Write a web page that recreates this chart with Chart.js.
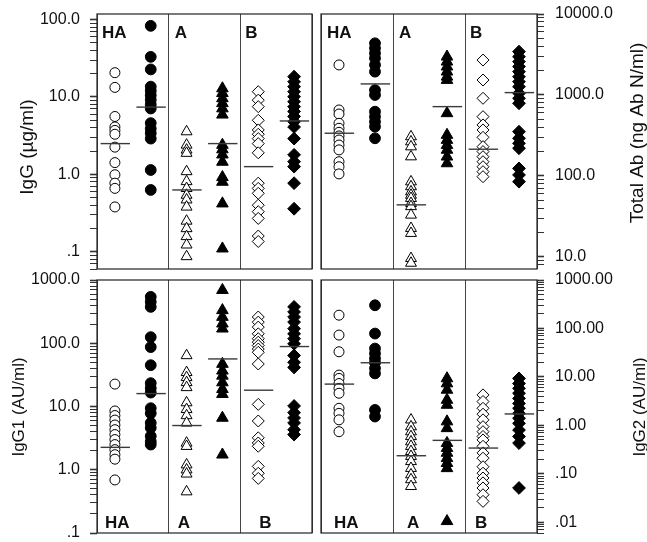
<!DOCTYPE html>
<html>
<head>
<meta charset="utf-8">
<title>Antibody responses</title>
<script src="https://cdn.jsdelivr.net/npm/chart.js@4.4.0/dist/chart.umd.min.js"></script>
<style>
  body { margin: 0; background: #fff; }
  #wrap { position: relative; width: 647px; height: 542px; }
  #wrap canvas { position: absolute; left: 0; top: 0; }
</style>
</head>
<body>
<div id="wrap">
  <canvas id="panelIgG" width="647" height="542"></canvas>
  <canvas id="panelTotal" width="647" height="542"></canvas>
  <canvas id="panelIgG1" width="647" height="542"></canvas>
  <canvas id="panelIgG2" width="647" height="542"></canvas>
</div>
<script>
// groups and the x position of each column (open / filled) in a panel
const groups = ['HA', 'A', 'B'];
const groupStarts = [0, 2, 4];
const columns = [0.5, 1.5, 2.5, 3.5, 4.5, 5.5];
const shapes = ['circle', 'triangle', 'rectRot'];

// IgG (ug/ml)
const igG_HA_open = [20.6, 13.3, 5.6, 4.1, 3.7, 3.3, 2.25, 1.42, 0.99, 0.77, 0.66, 0.38];
const igG_HA_filled = [83, 33, 22.7, 13.6, 12, 10.5, 9.2, 8, 7.1, 4.6, 3.9, 3.4, 2.9, 1.14, 0.63];
const igG_A_open = [3.57, 2.4, 2.07, 1.88, 1.09, 0.81, 0.66, 0.54, 0.47, 0.38, 0.25, 0.2, 0.158, 0.123, 0.087];
const igG_A_filled = [12.9, 11.2, 9.6, 8.3, 7.1, 5.9, 2.4, 2.1, 1.8, 1.45, 0.92, 0.8, 0.42, 0.11];
const igG_B_open = [11.7, 9.1, 7.5, 5.0, 3.75, 3.3, 2.9, 2.5, 1.9, 0.77, 0.66, 0.57, 0.40, 0.33, 0.27, 0.16, 0.136];
const igG_B_filled = [18.3, 15.7, 13.6, 11.7, 10.1, 8.7, 7.5, 6.5, 5.6, 4.8, 4.1, 2.9, 1.79, 1.46, 1.26, 0.77, 0.36];
const igG_medians = [2.5, 7.4, 0.63, 2.5, 1.26, 4.9];
const igG_ticks = [100, 10, 1, 0.1];
const igG_tickLabels = ['100.0', '10.0', '1.0', '.1'];

// Total Ab (ng Ab N/ml)
const tot_HA_open = [2350, 653, 582, 447, 388, 346, 312, 278, 241, 210, 150, 130, 106];
const tot_HA_filled = [4350, 3770, 3270, 2840, 2350, 1940, 1150, 1000, 622, 540, 468, 406, 292];
const tot_A_open = [306, 265, 230, 173, 85, 74, 64, 58, 53, 46, 42, 33, 22.6, 19.6, 9.6, 8.4];
const tot_A_filled = [2970, 2580, 2240, 1940, 1680, 1530, 594, 321, 278, 241, 210, 173, 143];
const tot_B_open = [2700, 1530, 910, 540, 427, 370, 300, 230, 200, 173, 150, 130, 113, 98];
const tot_B_filled = [3430, 2970, 2580, 2240, 1940, 1680, 1460, 1265, 1050, 910, 790, 352, 292, 253, 220, 124, 103, 85];
const tot_medians = [337, 1370, 44, 718, 214, 1070];
const tot_ticks = [10000, 1000, 100, 10];
const tot_tickLabels = ['10000.0', '1000.0', '100.0', '10.0'];

// IgG1 (AU/ml)
const g1_HA_open = [22.6, 8.5, 7.2, 6.1, 5.1, 4.3, 3.6, 3.0, 2.5, 2.08, 1.73, 1.47, 0.69];
const g1_HA_filled = [542, 451, 376, 125, 87, 45, 23.4, 19.5, 16.6, 9.4, 7.8, 5.5, 4.6, 3.4, 2.8, 2.5];
const g1_A_open = [64, 34.6, 28.8, 24, 20, 11.5, 9.0, 7.2, 5.5, 2.65, 2.35, 1.2, 1.0, 0.86, 0.45];
const g1_A_filled = [692, 332, 260, 204, 170, 47, 36.8, 30.6, 24, 18.8, 15.7, 6.6, 1.73];
const g1_B_open = [260, 216, 180, 141, 118, 104, 92, 81, 72, 47, 10.8, 5.9, 3.2, 2.65, 2.35, 1.13, 0.88, 0.73];
const g1_B_filled = [376, 313, 260, 216, 170, 141, 118, 98, 64, 50, 41.5, 10.2, 8.0, 6.6, 5.5, 4.3, 3.6];
const g1_medians = [2.26, 16.0, 5.0, 56.5, 18.1, 88.7];
const g1_ticks = [1000, 100, 10, 1, 0.1];
const g1_tickLabels = ['1000.0', '100.0', '10.0', '1.0', '.1'];

// IgG2 (AU/ml)
const g2_HA_open = [188, 73, 33, 10.9, 9.3, 7.3, 5.8, 4.6, 2.25, 1.77, 1.30, 0.74];
const g2_HA_filled = [301, 78.5, 38.5, 30.5, 24, 19.6, 15, 11.8, 2.08, 1.52];
const g2_A_open = [1.30, 0.94, 0.74, 0.59, 0.46, 0.37, 0.29, 0.23, 0.18, 0.13, 0.096, 0.076, 0.055];
const g2_A_filled = [9.3, 7.3, 5.4, 3.35, 2.64, 1.2, 0.87, 0.43, 0.34, 0.27, 0.21, 0.166, 0.13, 0.0105];
const g2_B_open = [4.25, 3.1, 2.25, 1.7, 1.3, 0.94, 0.74, 0.59, 0.5, 0.37, 0.27, 0.21, 0.14, 0.103, 0.082, 0.065, 0.051, 0.037, 0.027];
const g2_B_filled = [9.3, 7.3, 5.8, 4.6, 3.6, 2.84, 2.25, 1.77, 1.40, 1.10, 0.8, 0.59, 0.43, 0.051];
const g2_medians = [7.1, 19.6, 0.236, 0.49, 0.34, 1.72];
const g2_ticks = [1000, 100, 10, 1, 0.1, 0.01];
const g2_tickLabels = ['1000.00', '100.00', '10.00', '1.00', '.10', '.01'];

const FONT = '"Liberation Sans", Arial, Helvetica, sans-serif';

// one entry per panel: where it sits and how its axis looks
const panels = [
    {
        id: 'panelIgG', side: 'left', axisWidth: 97,
        padding: { left: 0, right: 335, top: 14, bottom: 273 },
        min: 0.06, max: 118, ticks: igG_ticks, tickLabels: igG_tickLabels,
        open: [igG_HA_open, igG_A_open, igG_B_open],
        filled: [igG_HA_filled, igG_A_filled, igG_B_filled],
        medians: igG_medians,
        title: 'IgG (µg/ml)', titleX: 28, titleY: 147, titleSize: 19,
        labelSide: 'top', labelOffsets: [5, 6, 5]
    },
    {
        id: 'panelTotal', side: 'right', axisWidth: 110,
        padding: { left: 321, right: 0, top: 14, bottom: 273 },
        min: 7.1, max: 10000, ticks: tot_ticks, tickLabels: tot_tickLabels,
        open: [tot_HA_open, tot_A_open, tot_B_open],
        filled: [tot_HA_filled, tot_A_filled, tot_B_filled],
        medians: tot_medians,
        title: 'Total Ab (ng Ab N/ml)', titleX: 638, titleY: 133, titleSize: 19,
        labelSide: 'top', labelOffsets: [6, 6, 5]
    },
    {
        id: 'panelIgG1', side: 'left', axisWidth: 97,
        padding: { left: 0, right: 335, top: 280, bottom: 9 },
        min: 0.1, max: 1000, ticks: g1_ticks, tickLabels: g1_tickLabels,
        open: [g1_HA_open, g1_A_open, g1_B_open],
        filled: [g1_HA_filled, g1_A_filled, g1_B_filled],
        medians: g1_medians,
        title: 'IgG1 (AU/ml)', titleX: 19, titleY: 407, titleSize: 17,
        labelSide: 'bottom', labelOffsets: [8, 9, 19]
    },
    {
        id: 'panelIgG2', side: 'right', axisWidth: 110,
        padding: { left: 321, right: 0, top: 280, bottom: 9 },
        min: 0.006, max: 1000, ticks: g2_ticks, tickLabels: g2_tickLabels,
        open: [g2_HA_open, g2_A_open, g2_B_open],
        filled: [g2_HA_filled, g2_A_filled, g2_B_filled],
        medians: g2_medians,
        title: 'IgG2 (AU/ml)', titleX: 640, titleY: 407, titleSize: 17,
        labelSide: 'bottom', labelOffsets: [13, 14, 10]
    }
];

const radii = { circle: 5, triangle: 6.3, rectRot: 6 };

// box, group names and rotated axis title
const panelDecor = {
    id: 'panelDecor',
    afterDatasetsDraw(chart, args, opts) {
        const ctx = chart.ctx;
        const a = chart.chartArea;
        const x = chart.scales.x;
        ctx.save();
        ctx.strokeStyle = '#222';
        ctx.lineWidth = 1.2;
        ctx.strokeRect(a.left, a.top, a.right - a.left, a.bottom - a.top);

        ctx.fillStyle = '#111';
        ctx.font = 'bold 17px ' + FONT;
        ctx.textAlign = 'left';
        ctx.textBaseline = 'alphabetic';
        groups.forEach((g, i) => {
            const gx = x.getPixelForValue(groupStarts[i]) + opts.labelOffsets[i];
            const gy = opts.labelSide === 'top' ? a.top + 24 : a.bottom - 5;
            ctx.fillText(g, gx, gy);
        });

        ctx.translate(opts.titleX, opts.titleY);
        ctx.rotate(-Math.PI / 2);
        ctx.font = opts.titleSize + 'px ' + FONT;
        ctx.textAlign = 'center';
        ctx.textBaseline = 'middle';
        ctx.fillText(opts.title, 0, 0);
        ctx.restore();
    }
};

// 1..9 x 10^n between min and max, so the minor marks show
function logTicks(min, max) {
    const out = [];
    for (let e = Math.floor(Math.log10(min)); e <= Math.ceil(Math.log10(max)); e++) {
        for (let m = 1; m < 10; m++) {
            const v = m * Math.pow(10, e);
            if (v >= min * 0.999 && v <= max * 1.001) out.push({ value: v });
        }
    }
    return out;
}

function findDecade(p, value) {
    return p.ticks.findIndex(t => Math.abs(t - value) / t < 1e-6);
}

function buildDatasets(p) {
    const sets = [];
    shapes.forEach((shape, g) => {
        [p.open[g], p.filled[g]].forEach((vals, k) => {
            const col = columns[g * 2 + k];
            sets.push({
                type: 'scatter',
                data: vals.map(v => ({ x: col, y: v })),
                pointStyle: shape,
                pointRadius: radii[shape] + (k ? 0.4 : 0),
                backgroundColor: k ? '#000' : '#fff',
                borderColor: '#000',
                borderWidth: 1,
                order: 1
            });
            // median line
            const m = p.medians[g * 2 + k];
            sets.push({
                type: 'line',
                showLine: true,
                data: [{ x: col - 0.4, y: m }, { x: col + 0.42, y: m }],
                borderColor: '#3a3a3a',
                borderWidth: 1.4,
                pointRadius: 0,
                order: 0
            });
        });
    });
    return sets;
}

function createPanel(p) {
    const ctx = document.getElementById(p.id).getContext('2d');
    return new Chart(ctx, {
        type: 'scatter',
        data: { datasets: buildDatasets(p) },
        plugins: [panelDecor],
        options: {
            responsive: false,
            animation: false,
            devicePixelRatio: 1,
            events: [],
            layout: { padding: p.padding },
            plugins: {
                legend: { display: false },
                tooltip: { enabled: false },
                panelDecor: {
                    title: p.title, titleX: p.titleX, titleY: p.titleY, titleSize: p.titleSize,
                    labelSide: p.labelSide, labelOffsets: p.labelOffsets
                }
            },
            scales: {
                x: {
                    type: 'linear',
                    min: 0,
                    max: 6,
                    ticks: { stepSize: 2, display: false },
                    grid: { color: '#444', lineWidth: 1, drawTicks: false },
                    border: { display: false },
                    afterFit: s => { s.height = 0; s.paddingLeft = 0; s.paddingRight = 0; }
                },
                y: {
                    type: 'logarithmic',
                    position: p.side,
                    min: p.min,
                    max: p.max,
                    afterBuildTicks: s => { s.ticks = logTicks(p.min, p.max); },
                    afterFit: s => { s.width = p.axisWidth; s.paddingTop = 0; s.paddingBottom = 0; },
                    border: { display: false },
                    grid: {
                        drawOnChartArea: false,
                        drawTicks: true,
                        tickLength: 7,
                        tickColor: '#333',
                        tickWidth: c => (c.tick && findDecade(p, c.tick.value) >= 0 ? 1.6 : 1)
                    },
                    ticks: {
                        autoSkip: false,
                        padding: p.side === 'left' ? 10 : 11,
                        color: '#111',
                        font: { family: FONT, size: 16 },
                        callback: value => {
                            const i = findDecade(p, value);
                            return i >= 0 ? p.tickLabels[i] : '';
                        }
                    }
                }
            }
        }
    });
}

panels.forEach(createPanel);
</script>
</body>
</html>
